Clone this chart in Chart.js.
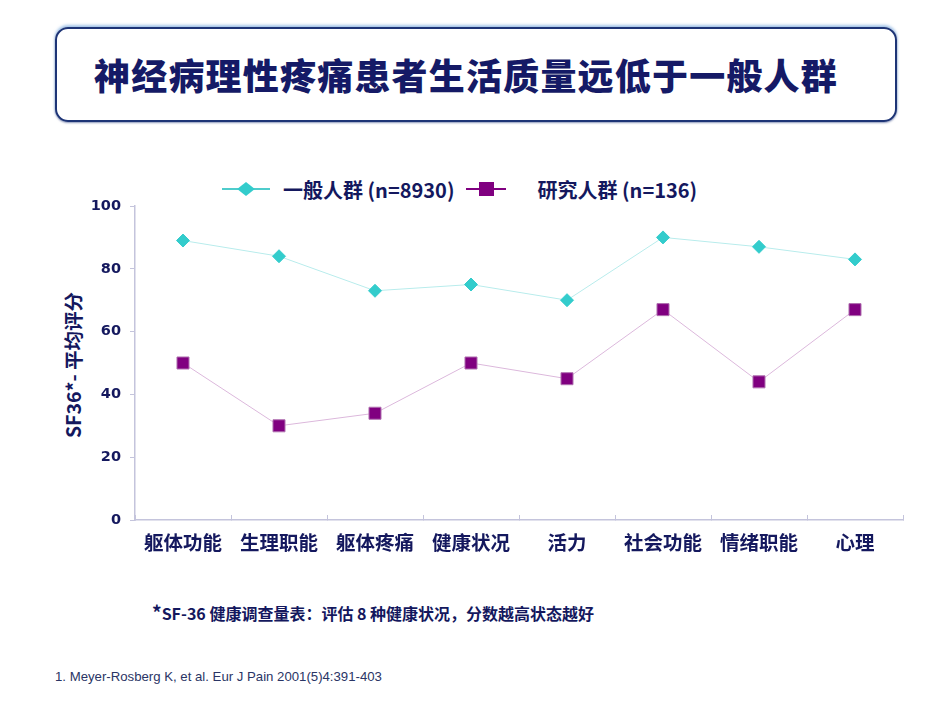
<!DOCTYPE html>
<html>
<head>
<meta charset="utf-8">
<script src="https://cdn.jsdelivr.net/npm/chart.js@4"></script>
<style>
  body { margin: 0; background: #fff; width: 950px; height: 713px; position: relative; overflow: hidden;
         font-family: "Liberation Sans", Arial, "Noto Sans CJK SC", sans-serif; }
  #chart { position: absolute; left: 0; top: 0; }
  .titlebox { position: absolute; left: 55px; top: 27px; width: 838px; height: 91px;
              border: 2.5px solid #1d3476; border-radius: 13px;
              box-shadow: 0 -2px 3px rgba(90, 150, 215, 0.55), 0 1px 2px rgba(30, 50, 120, 0.5); }
  .title { position: absolute; left: 0; top: 49px; width: 932px; text-align: center; line-height: 50px;
           font-family: "Noto Sans CJK SC", sans-serif; font-weight: 900; font-size: 36px; color: #151a66;
           letter-spacing: 1.2px; }
  .legend { position: absolute; top: 175px; left: 222px; height: 28px; display: flex; align-items: center;
            font-family: "Noto Sans CJK SC", sans-serif;
            font-weight: bold; font-size: 20px; color: #14185e; white-space: nowrap; }
  .legend .item { display: flex; align-items: center; }
  .legend .mk { position: relative; height: 20px; }
  .legend .mk .ln { position: absolute; left: 0; right: 0; top: 9px; height: 2px; }
  .legend .mk .pt { position: absolute; }
  .ytitle { position: absolute; left: 72px; top: 365px; transform: translate(-50%, -50%) rotate(-90deg);
            font-family: "Noto Sans CJK SC", sans-serif;
            font-weight: bold; font-size: 19.5px; color: #14185e; white-space: nowrap; }
  .note { position: absolute; left: 152px; top: 598px; font-family: "Noto Sans CJK SC", sans-serif;
          font-weight: bold; font-size: 16px; color: #14185e; white-space: nowrap; }
  .ref { position: absolute; left: 55px; top: 669px; font-size: 13.2px; color: #2a3565; white-space: nowrap; }
</style>
</head>
<body>
<div class="titlebox"></div>
<div class="title">神经病理性疼痛患者生活质量远低于一般人群</div>
<div class="legend" id="legend"></div>
<div class="ytitle">SF36*- 平均评分</div>
<div class="note"><span style="font-size:19px">*</span>SF-36 健康调查量表：评估 8 种健康状况，分数越高状态越好</div>
<div class="ref">1. Meyer-Rosberg K, et al. Eur J Pain 2001(5)4:391-403</div>
<canvas id="chart" width="950" height="713"></canvas>
<script>
const categories = ['躯体功能', '生理职能', '躯体疼痛', '健康状况', '活力', '社会功能', '情绪职能', '心理'];
const seriesNames = ['一般人群 (n=8930)', '研究人群 (n=136)'];
const generalPop = [89, 84, 73, 75, 70, 90, 87, 83];
const studyPop = [50, 30, 34, 50, 45, 67, 44, 67];
const yTicks = [0, 20, 40, 60, 80, 100];

const navy = '#14185e';
const axisColor = '#c4c4dc';

// legend built by hand (line through marker, like the original)
const legendDefs = [
    { name: seriesNames[0], line: '#4fcccc', fill: '#33cccc', shape: 'diamond', lineW: 48, gap: 13, after: 12 },
    { name: seriesNames[1], line: '#800080', fill: '#800080', shape: 'square', lineW: 40, gap: 31, after: 0 }
];
const legendEl = document.getElementById('legend');
legendDefs.forEach(function(d) {
    const item = document.createElement('div');
    item.className = 'item';
    const mk = document.createElement('div');
    mk.className = 'mk';
    mk.style.width = d.lineW + 'px';
    const ln = document.createElement('div');
    ln.className = 'ln';
    ln.style.background = d.line;
    mk.appendChild(ln);
    const pt = document.createElement('div');
    pt.className = 'pt';
    pt.style.background = d.fill;
    if (d.shape === 'diamond') {
        pt.style.width = '10px'; pt.style.height = '10px';
        pt.style.left = (d.lineW / 2 - 5) + 'px'; pt.style.top = '5px';
        pt.style.transform = 'scaleX(1.25) rotate(45deg)';
    } else {
        pt.style.width = '15px'; pt.style.height = '14px';
        pt.style.left = (d.lineW / 2 - 7.5) + 'px'; pt.style.top = '3px';
    }
    mk.appendChild(pt);
    item.appendChild(mk);
    const txt = document.createElement('span');
    txt.textContent = d.name;
    txt.style.marginLeft = d.gap + 'px';
    txt.style.marginRight = d.after + 'px';
    item.appendChild(txt);
    legendEl.appendChild(item);
});

const ctx = document.getElementById('chart').getContext('2d');
new Chart(ctx, {
    type: 'line',
    data: {
        labels: categories,
        datasets: [{
            label: seriesNames[0],
            data: generalPop,
            borderColor: '#b8ecec',
            borderWidth: 1,
            pointStyle: 'rectRot',
            pointRadius: 6.5,
            pointBackgroundColor: '#33cccc',
            pointBorderColor: '#33cccc',
            pointBorderWidth: 1,
            tension: 0
        }, {
            label: seriesNames[1],
            data: studyPop,
            borderColor: '#dcb8dc',
            borderWidth: 1,
            pointStyle: 'rect',
            pointRadius: 8.5,
            pointBackgroundColor: '#800080',
            pointBorderColor: '#b070b0',
            pointBorderWidth: 1,
            tension: 0
        }]
    },
    options: {
        responsive: false,
        animation: false,
        layout: { padding: { left: 0, top: 206, right: 47, bottom: 153 } },
        plugins: {
            legend: { display: false },
            tooltip: { enabled: false }
        },
        scales: {
            x: {
                offset: true,
                grid: { offset: true, drawOnChartArea: false, color: axisColor, tickLength: -5, tickColor: axisColor },
                border: { color: axisColor, width: 1.5 },
                ticks: {
                    padding: 16,
                    maxRotation: 0,
                    autoSkip: false,
                    color: navy,
                    font: { family: '"Noto Sans CJK SC", sans-serif', size: 19.5, weight: 'bold' }
                },
                afterFit: function(s) { s.height = 40; s.paddingLeft = 0; s.paddingRight = 0; }
            },
            y: {
                min: 0,
                max: 100,
                afterBuildTicks: function(s) { s.ticks = yTicks.map(v => ({ value: v })); },
                grid: { drawOnChartArea: false, color: axisColor, tickLength: 5, tickColor: axisColor },
                border: { color: axisColor, width: 1.5 },
                ticks: {
                    padding: 9,
                    color: navy,
                    font: { family: '"DejaVu Sans", Verdana, sans-serif', size: 14.5, weight: 'bold' }
                },
                afterFit: function(s) { s.width = 135; s.paddingTop = 0; s.paddingBottom = 0; }
            }
        }
    }
});
</script>
</body>
</html>
